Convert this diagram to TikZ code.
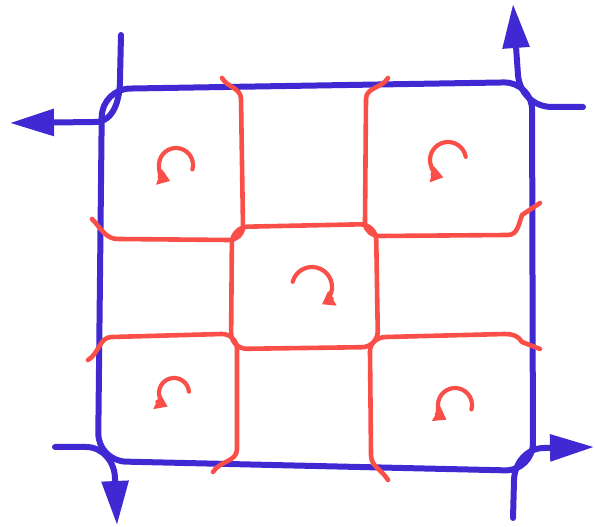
\documentclass[tikz,border=0pt]{standalone}
\usepackage{tikz}
\usepackage{xcolor}
\usetikzlibrary{arrows.meta}
\definecolor{penblue}{RGB}{64,40,210}
\definecolor{penred}{RGB}{250,78,72}

\begin{document}
\begin{tikzpicture}[x=1pt,y=1pt,
    border/.style={penblue, line width=6pt, line cap=round, line join=round},
    leg/.style={border, -{Triangle[length=44pt,width=26pt]}},
    cell/.style={penred, line width=4.6pt, line cap=round, line join=round},
    spin/.style={cell, line width=4.2pt, -{Triangle[length=12pt,width=16pt]}}]
            \useasboundingbox (0,0) rectangle (595,527);
            % outer boundary
            \draw[border, rounded corners=28pt] (100,250) -- (102,438) -- (532,445) -- (533,56) -- (98,66) -- cycle;
            % corner legs
            \draw[leg] (121,492) -- (120,448) to[out=-90,in=0] (95,405) -- (10,404);
            \draw[leg] (583,420) -- (552,420) to[out=180,in=-85] (518,452) -- (513,523);
            \draw[leg] (55,80) -- (86,80) to[out=0,in=90] (115,48) -- (117,2);
            \draw[leg] (513,9) -- (514,46) to[out=90,in=180] (544,79) -- (594,80);
            % red cells
            \draw[cell] (222,449) to[out=-60,in=90] (241,428) -- (243,300) to[out=-90,in=0] (229,287) -- (118,288) to[out=180,in=-45] (92,308);
            \draw[cell] (388,449) to[out=-120,in=90] (366,428) -- (365,304) to[out=-90,in=180] (380,291) -- (508,292) to[out=0,in=-110] (522,312) -- (540,324);
            \draw[cell, rounded corners=16pt] (232,300) -- (376,303) -- (378,180) -- (231,178) -- cycle;
            \draw[cell] (88,167) to[out=30,in=180] (112,190) -- (222,193) to[out=0,in=90] (237,178) -- (237,78) to[out=-90,in=60] (213,55);
            \draw[cell] (388,47) to[out=120,in=-90] (371,72) -- (370,176) to[out=90,in=180] (386,190) -- (505,193) to[out=0,in=120] (522,185) -- (540,178);
            % rotations
            \foreach \cx/\cy/\sa/\ea/\rr in {176/362/-15/250/17, 448/367/10/255/18, 455/122/-15/240/17, 174/134/5/245/15, 312/240/165/-60/20}
            {
                \draw[spin] (\cx,\cy) ++(\sa:\rr) arc[start angle=\sa, end angle=\ea, radius=\rr];
            }
        \end{tikzpicture}
\end{document}
